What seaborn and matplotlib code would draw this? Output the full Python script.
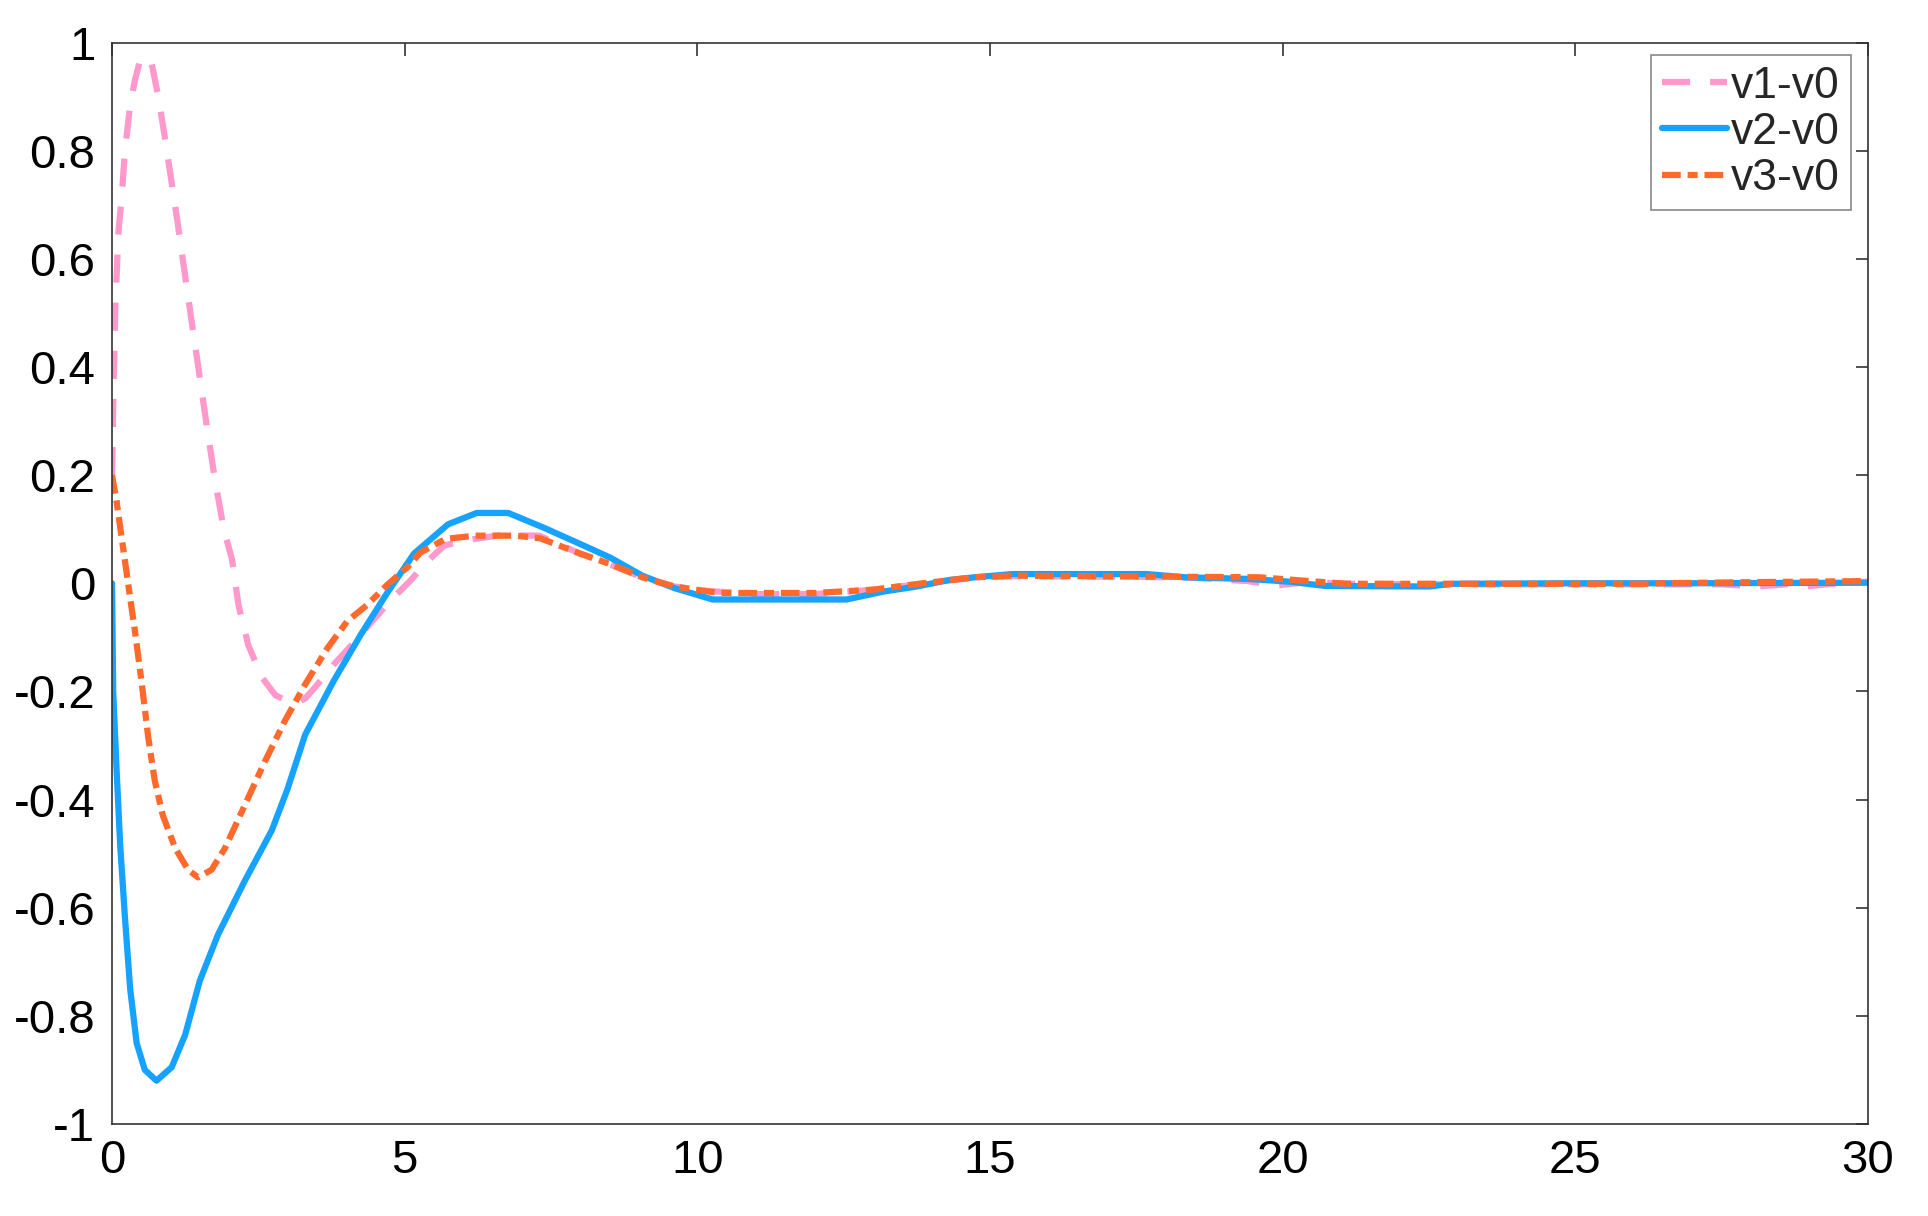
import numpy as np
import pandas as pd
import seaborn as sns
import matplotlib
matplotlib.use("Agg")
import matplotlib.pyplot as plt

# v1-v0 (pink, dashed)
t1 = [0, 0.03, 0.06, 0.11, 0.17, 0.22, 0.31, 0.39, 0.48, 0.56, 0.68, 0.79, 0.91, 1.02,
      1.13, 1.26, 1.38, 1.5, 1.62, 1.76, 1.91, 2.05, 2.16, 2.33, 2.56, 2.79, 3.0, 3.18,
      3.3, 3.45, 3.79, 4.13, 4.47, 4.82, 5.1, 5.36, 5.68, 6.07, 6.64, 7.3, 7.97, 8.5,
      9.06, 9.6, 10.15, 11, 12, 13, 13.9, 14.7, 15.4, 17.5, 18.5, 19.4, 19.9, 20.4, 21.2,
      22.5, 24, 26, 27.5, 28.1, 28.6, 29.0, 29.5, 30]
v1 = [0.2, 0.38, 0.52, 0.65, 0.72, 0.80, 0.884, 0.93, 0.967, 0.974, 0.96, 0.90, 0.82,
      0.74, 0.66, 0.56, 0.47, 0.38, 0.29, 0.19, 0.10, 0.044, -0.04, -0.115, -0.174,
      -0.207, -0.218, -0.22, -0.213, -0.195, -0.15, -0.11, -0.067, -0.025, 0.005, 0.038,
      0.070, 0.080, 0.089, 0.088, 0.056, 0.035, 0.011, -0.006, -0.014, -0.02, -0.02,
      -0.012, 0.0, 0.01, 0.013, 0.012, 0.01, 0.004, -0.004, 0.002, -0.001, -0.002,
      -0.002, -0.002, -0.002, -0.006, -0.002, -0.005, 0.0, 0.003]

# v2-v0 (blue, solid)
t2 = [0, 0.02, 0.08, 0.14, 0.22, 0.31, 0.42, 0.56, 0.76, 1.02, 1.25, 1.50, 1.81, 2.27,
      2.73, 3.0, 3.30, 3.79, 4.25, 4.70, 5.16, 5.74, 6.23, 6.77, 7.37, 7.97, 8.52, 9.06,
      9.61, 10.26, 12.55, 13.2, 13.75, 14.3, 14.73, 15.38, 17.67, 18.33, 19.42, 20.1,
      20.73, 22.5, 22.9, 25, 27, 30]
v2 = [0, -0.2, -0.35, -0.485, -0.617, -0.75, -0.85, -0.90, -0.92, -0.895, -0.835, -0.735,
      -0.65, -0.55, -0.457, -0.38, -0.28, -0.18, -0.095, -0.018, 0.055, 0.109, 0.13,
      0.13, 0.103, 0.074, 0.047, 0.014, -0.009, -0.03, -0.03, -0.015, -0.006, 0.006,
      0.011, 0.017, 0.017, 0.011, 0.008, 0.003, -0.005, -0.006, -0.001, 0.0, 0.0, 0.001]

# v3-v0 (orange, dash-dot)
t3 = [0, 0.08, 0.19, 0.34, 0.39, 0.51, 0.62, 0.73, 0.87, 1.08, 1.30, 1.47, 1.70, 1.93,
      2.27, 2.61, 2.96, 3.30, 3.68, 4.02, 4.36, 4.70, 5.05, 5.27, 5.7, 6.2, 6.9, 7.32,
      7.97, 8.52, 9.06, 9.61, 10.37, 12.0, 12.99, 13.86, 14.73, 15.38, 19.6, 20.7, 21.1,
      22.8, 26.2, 26.5, 28, 30]
v3 = [0.2, 0.15, 0.065, -0.05, -0.087, -0.187, -0.286, -0.365, -0.43, -0.49, -0.53,
      -0.544, -0.53, -0.49, -0.41, -0.33, -0.253, -0.187, -0.12, -0.07, -0.04, -0.003,
      0.03, 0.057, 0.082, 0.088, 0.088, 0.083, 0.056, 0.035, 0.011, -0.006, -0.018,
      -0.018, -0.012, 0.0, 0.011, 0.014, 0.011, 0.002, -0.001, -0.001, -0.001, 0.0,
      0.002, 0.004]

labels = ["v1-v0", "v2-v0", "v3-v0"]
x_ticks = [0, 5, 10, 15, 20, 25, 30]
y_ticks = [-1, -0.8, -0.6, -0.4, -0.2, 0, 0.2, 0.4, 0.6, 0.8, 1]
y_ticklabels = ["-1", "-0.8", "-0.6", "-0.4", "-0.2", "0", "0.2", "0.4", "0.6", "0.8", "1"]

sns.set_theme(style="white")
plt.rcParams["font.family"] = ["Liberation Sans", "DejaVu Sans"]
plt.rcParams["axes.unicode_minus"] = False

fig = plt.figure(figsize=(19.28, 12.16), dpi=100)
ax = fig.add_axes([0.0581, 0.0757, 0.9108, 0.8893])

lw = 4.5
sns.lineplot(x=t1, y=v1, ax=ax, color="#ff99cc", linewidth=lw,
             linestyle=(0, (4.5, 3.2)), label=labels[0])
sns.lineplot(x=t2, y=v2, ax=ax, color="#16a2ff", linewidth=lw,
             linestyle="-", label=labels[1])
sns.lineplot(x=t3, y=v3, ax=ax, color="#ff6a2c", linewidth=lw,
             linestyle=(0, (3.0, 1.1, 1.6, 1.1)), label=labels[2])

ax.set_xlim(0, 30)
ax.set_ylim(-1, 1)
ax.set_xticks(x_ticks)
ax.set_xticklabels([str(v) for v in x_ticks])
ax.set_yticks(y_ticks)
ax.set_yticklabels(y_ticklabels)
ax.set_xlabel("")
ax.set_ylabel("")

ax.tick_params(direction="in", length=9, width=1.2, colors="#333333",
               labelcolor="black", labelsize=34, top=True, right=True)
ax.tick_params(axis="x", pad=11)
ax.tick_params(axis="y", pad=12)
for sp in ax.spines.values():
    sp.set_color("#333333")
    sp.set_linewidth(1.2)

leg = ax.legend(loc="upper right", bbox_to_anchor=(0.9903, 0.9889), borderaxespad=0,
                fontsize=32, frameon=True, fancybox=False, framealpha=1,
                edgecolor="#888888", handlelength=1.45, handletextpad=0.1,
                labelspacing=0.12, borderpad=0.25)
leg.get_frame().set_linewidth(1.2)

fig.savefig("out.png", dpi=100)
